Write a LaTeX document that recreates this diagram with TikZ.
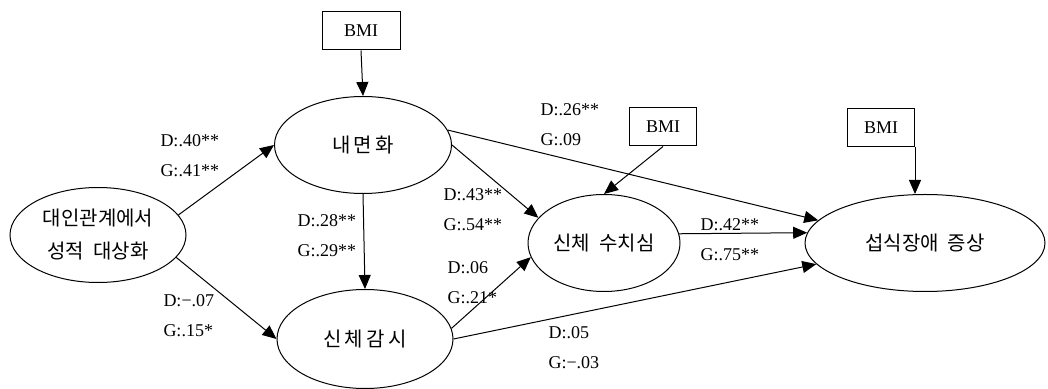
\documentclass[tikz,border=0pt]{standalone}
\usepackage{fontspec}
\setmainfont{Liberation Serif}
\newfontfamily\kor{Noto Sans CJK KR}
\usetikzlibrary{shapes.geometric,arrows.meta}
\tikzset{
        latent/.style={draw,ellipse,inner sep=0pt,align=center,font=\kor\fontsize{10}{16.5}\selectfont},
        bmibox/.style={draw,rectangle,inner sep=0pt,minimum width=33.5pt,minimum height=19pt,font=\fontsize{9}{10}\selectfont},
        coef/.style={anchor=base west,inner sep=0pt,align=left,font=\fontsize{9}{15}\selectfont},
        arr/.style={-{Triangle[length=7pt,width=6pt]}}
}
\begin{document}
\begin{tikzpicture}[x=0.5pt,y=-0.5pt,line width=0.5pt]
                \useasboundingbox (0,0) rectangle (1048,389);
                \node[latent,minimum width=88pt,minimum height=47.5pt] (dae) at (98,235) {대인관계에서\\성적\ \ 대상화};
                \node[latent,minimum width=88.5pt,minimum height=48.5pt] (nae) at (363,145) {내\,면\,화};
                \node[latent,minimum width=88pt,minimum height=49.5pt] (gam) at (365,339) {신\,체\,감\,시};
                \node[latent,minimum width=76pt,minimum height=48.5pt] (shame) at (604,243) {신체\ \ 수치심};
                \node[latent,minimum width=120pt,minimum height=48.5pt] (sub) at (925,243) {섭식장애\ \ 증상};
                \node[bmibox,minimum width=39pt] (bmi1) at (361,31) {BMI};
                \node[bmibox] (bmi2) at (663,127) {BMI};
                \node[bmibox] (bmi3) at (881,128) {BMI};
                \draw[arr] (bmi1.south) -- (nae.north);
                \draw[arr] (bmi2.south) -- (shame.north);
                \draw[arr] (bmi3.south east) -- (bmi3.south east |- sub.north);
                \draw[arr] (dae.14) -- (nae.west);
                \draw[arr] (dae.-16) -- (gam.west);
                \draw[arr] (nae.south) -- (gam.north);
                \draw[arr] (nae.east) -- (shame.159);
                \draw[arr] (nae.10) -- (sub.168);
                \draw[arr] (gam.7) -- (shame.191);
                \draw[arr] (gam.east) -- (sub.191);
                \draw[arr] (shame.7) -- (sub.175);
                \node[coef] (c1) at (160,177) {D:.40**\\G:.41**};
                \node[coef] (c2) at (163,336) {D:−.07\\G:.15*};
                \node[coef] (c3) at (297,257) {D:.28**\\G:.29**};
                \node[coef] (c4) at (443,231) {D:.43**\\G:.54**};
                \node[coef] (c5) at (447,304) {D:.06\\G:.21*};
                \node[coef] (c6) at (540,146) {D:.26**\\G:.09};
                \node[coef] (c7) at (700,261) {D:.42**\\G:.75**};
                \node[coef] (c8) at (548,368) {D:.05\\G:−.03};
\end{tikzpicture}
\end{document}
